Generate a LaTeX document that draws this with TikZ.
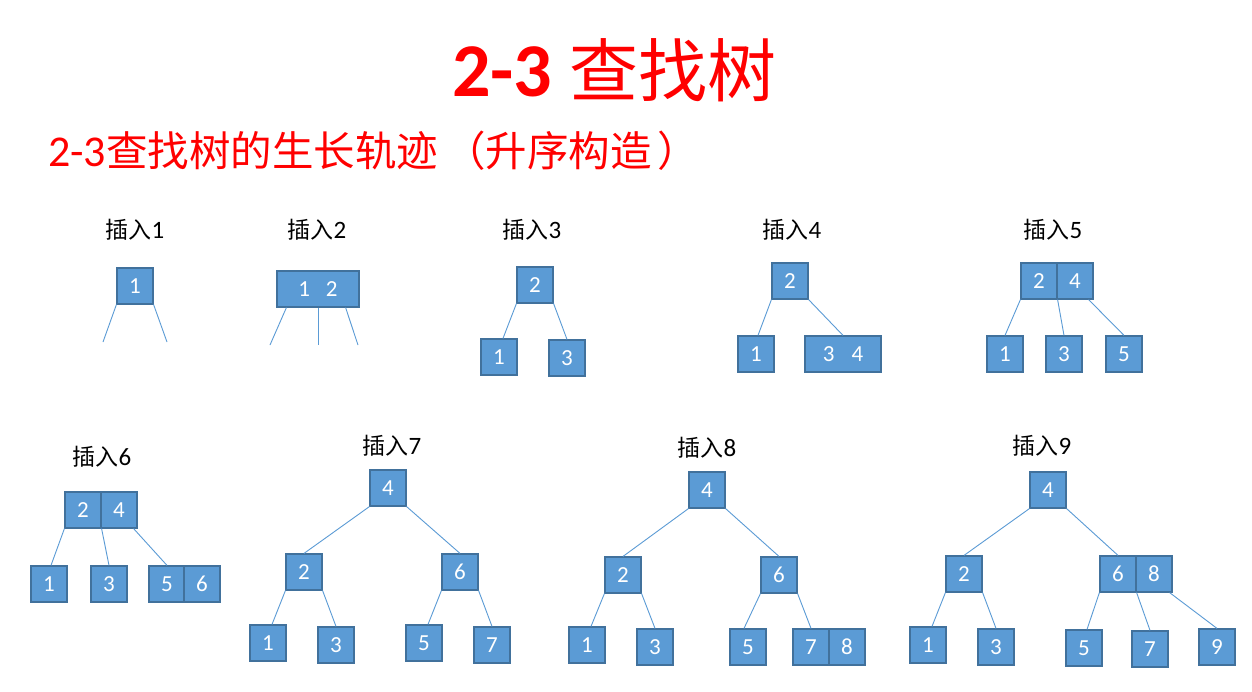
\documentclass[tikz,border=0pt]{standalone}
\usepackage{fontspec}
\setmainfont{Carlito}
\newfontfamily\cjk{Noto Sans CJK SC}
\definecolor{boxfill}{HTML}{5B9BD5}
\definecolor{boxborder}{HTML}{41719C}
\definecolor{edgecol}{HTML}{5B9BD5}
\definecolor{titlered}{HTML}{FF0000}
\tikzset{
  keybox/.style={draw=boxborder, fill=boxfill, line width=1.2pt, minimum width=36pt, minimum height=36pt, inner sep=0pt, text=white, font=\fontsize{23}{23}\selectfont},
  widebox/.style={keybox, minimum width=#1},
  link/.style={draw=edgecol, line width=0.9pt},
  steplabel/.style={anchor=base, inner sep=0pt, font=\fontsize{23}{23}\selectfont},
}
\newcommand{\stepname}[1]{{\cjk 插入}{\fontsize{25}{25}\selectfont #1}}
\begin{document}
\begin{tikzpicture}[x=1pt,y=-1pt]
\useasboundingbox (0,0) rectangle (1252,691);
\fill[white] (0,0) rectangle (1252,691);

% titles
\node[anchor=base west, inner sep=0pt, text=titlered] (title) at (452,96)
  {{\fontsize{76}{76}\selectfont\bfseries 2-3 }{\cjk\fontsize{69}{69}\selectfont 查找树}};
\node[anchor=base west, inner sep=0pt, text=titlered] (subtitle) at (48,166)
  {{\fontsize{44}{44}\selectfont 2-3}{\cjk\fontsize{41.5}{41.5}\selectfont 查找树的生长轨迹\hspace{6pt}（升序构造\hspace{6pt}）}};

% labels
\node[steplabel] (l1) at (135,238) {\stepname{1}};
\node[steplabel] (l2) at (317,238) {\stepname{2}};
\node[steplabel] (l3) at (532,238) {\stepname{3}};
\node[steplabel] (l4) at (792,238) {\stepname{4}};
\node[steplabel] (l5) at (1053,238) {\stepname{5}};
\node[steplabel] (l6) at (102,465) {\stepname{6}};
\node[steplabel] (l7) at (392,454) {\stepname{7}};
\node[steplabel] (l8) at (707,456) {\stepname{8}};
\node[steplabel] (l9) at (1042,454) {\stepname{9}};

% insert 1
\node[keybox] (a1) at (135,286) {1};
\coordinate (a1l) at (103,342);
\coordinate (a1r) at (167,342);
\draw[link] (a1.south west) -- (a1l);
\draw[link] (a1.south east) -- (a1r);

% insert 2
\node[widebox=82pt] (b12) at (318,289) {1\hspace{16pt}2};
\coordinate (b1l) at (270,345);
\coordinate (b1m) at (318,345);
\coordinate (b1r) at (358,345);
\draw[link] ([xshift=10pt]b12.south west) -- (b1l);
\draw[link] (b12.south) -- (b1m);
\draw[link] ([xshift=-14pt]b12.south east) -- (b1r);

% insert 3
\node[keybox] (c2) at (535,285) {2};
\node[keybox] (c1) at (499,357) {1};
\node[keybox] (c3) at (567,358) {3};
\draw[link] (c2.south west) -- ([xshift=4pt]c1.north);
\draw[link] (c2.south east) -- (c3.north);

% insert 4
\node[keybox] (d2) at (790,281) {2};
\node[keybox] (d1) at (756,354) {1};
\node[widebox=76pt] (d34) at (843,354) {3\hspace{17pt}4};
\draw[link] (d2.south west) -- ([xshift=2pt]d1.north);
\draw[link] (d2.south east) -- (d34.north);

% insert 5
\node[keybox] (e2) at (1039,281) {2};
\node[keybox] (e4) at (1075,281) {4};
\node[keybox] (e1) at (1005,354) {1};
\node[keybox] (e3) at (1064,354) {3};
\node[keybox] (e5) at (1124,354) {5};
\draw[link] (e2.south west) -- (e1.north);
\draw[link] (e2.south east) -- (e3.north);
\draw[link] ([xshift=-5pt]e4.south east) -- (e5.north);

% insert 6
\node[keybox] (f2) at (83,510) {2};
\node[keybox] (f4) at (119,510) {4};
\node[keybox] (f1) at (49,584) {1};
\node[keybox] (f3) at (109,584) {3};
\node[keybox] (f5) at (167,584) {5};
\node[keybox] (f6) at (202,584) {6};
\draw[link] (f2.south west) -- ([xshift=2pt]f1.north);
\draw[link] (f2.south east) -- (f3.north);
\draw[link] ([xshift=-4pt]f4.south east) -- (f5.north);

% insert 7
\node[keybox] (g4) at (388,488) {4};
\node[keybox] (g2) at (304,572) {2};
\node[keybox] (g6) at (460,572) {6};
\node[keybox] (g1) at (268,643) {1};
\node[keybox] (g3) at (336,645) {3};
\node[keybox] (g5) at (424,643) {5};
\node[keybox] (g7) at (492,645) {7};
\draw[link] (g4.south west) -- (g2.north);
\draw[link] (g4.south east) -- (g6.north);
\draw[link] (g2.south west) -- ([xshift=4pt]g1.north);
\draw[link] (g2.south east) -- (g3.north);
\draw[link] (g6.south west) -- ([xshift=4pt]g5.north);
\draw[link] (g6.south east) -- (g7.north);

% insert 8
\node[keybox] (h4) at (707,490) {4};
\node[keybox] (h2) at (623,575) {2};
\node[keybox] (h6) at (779,575) {6};
\node[keybox] (h1) at (587,645) {1};
\node[keybox] (h3) at (655,647) {3};
\node[keybox] (h5) at (748,647) {5};
\node[keybox] (h7) at (811,647) {7};
\node[keybox] (h8) at (847,647) {8};
\draw[link] (h4.south west) -- (h2.north);
\draw[link] (h4.south east) -- (h6.north);
\draw[link] (h2.south west) -- ([xshift=4pt]h1.north);
\draw[link] (h2.south east) -- (h3.north);
\draw[link] (h6.south west) -- ([xshift=-4pt]h5.north);
\draw[link] (h6.south east) -- (h7.north);

% insert 9
\node[keybox] (i4) at (1048,490) {4};
\node[keybox] (i2) at (964,574) {2};
\node[keybox] (i6) at (1118,574) {6};
\node[keybox] (i8) at (1154,574) {8};
\node[keybox] (i1) at (928,645) {1};
\node[keybox] (i3) at (996,647) {3};
\node[keybox] (i5) at (1084,648) {5};
\node[keybox] (i7) at (1150,649) {7};
\node[keybox] (i9) at (1217,647) {9};
\draw[link] (i4.south west) -- (i2.north);
\draw[link] (i4.south east) -- (i6.north);
\draw[link] (i2.south west) -- ([xshift=4pt]i1.north);
\draw[link] (i2.south east) -- (i3.north);
\draw[link] (i6.south west) -- ([xshift=3pt]i5.north);
\draw[link] (i6.south east) -- (i7.north);
\draw[link] ([xshift=-3pt]i8.south east) -- (i9.north);
\end{tikzpicture}
\end{document}
